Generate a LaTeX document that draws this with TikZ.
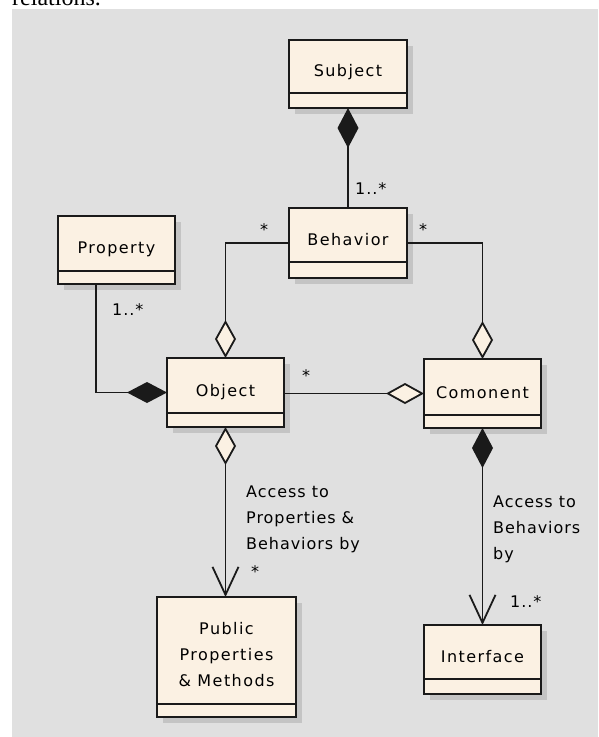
\documentclass[tikz,border=0pt]{standalone}
\usepackage{fontspec}
\newfontfamily\umlfont{DejaVu Sans}[LetterSpace=6]
\newfontfamily\umlclassfont{DejaVu Sans}[LetterSpace=9]
\newfontfamily\docfont{Liberation Serif}
\usetikzlibrary{arrows.meta}
\definecolor{bggray}{HTML}{E0E0E0}
\definecolor{cream}{HTML}{FBF1E3}
\definecolor{shadowgray}{HTML}{C4C4C4}
\definecolor{ink}{HTML}{1A1A1A}
\tikzset{
  classbox/.style={draw=ink, line width=1.9pt, fill=cream, inner sep=0pt, outer sep=0pt},
  classtext/.style={font=\umlclassfont\fontsize{16}{26}\selectfont, inner sep=0pt, align=center, anchor=base},
  lbl/.style={font=\umlfont\fontsize{16}{26}\selectfont, inner sep=0pt, anchor=base west, align=left},
  conn/.style={draw=ink, line width=1.8pt},
  comp/.style={arrows={Diamond[length=40pt,width=21pt,fill=ink]-}},
  aggr/.style={arrows={Diamond[length=38pt,width=21pt,fill=cream]-}},
  aggrnav/.style={arrows={Diamond[length=38pt,width=21pt,fill=cream]-Straight Barb[length=28pt,width=26pt]}},
  compnav/.style={arrows={Diamond[length=40pt,width=21pt,fill=ink]-Straight Barb[length=28pt,width=26pt]}},
}
\newcommand\umlbox[8]{%
  \fill[shadowgray] (#2+6,#3+6) rectangle (#4+6,#5+6);
  \node[classbox, anchor=north west, minimum width={#4-#2}, minimum height={#5-#3}] (#1) at (#2,#3) {};
  \draw[ink, line width=1.6pt] (#2,#6) -- (#4,#6);
  \node[classtext] (#1-t) at ({(#2+#4)/2},#8) {#7};
}
\begin{document}
\begin{tikzpicture}[x=1pt,y=-1pt]
\useasboundingbox (0,0) rectangle (598,737);
\clip (0,0) rectangle (598,737);
\fill[bggray] (12,9) rectangle (598,737);
\node[font=\fontsize{24}{28}\selectfont\docfont, inner sep=0pt, anchor=base west] (caption) at (12,5) {relations.};

\umlbox{subj}{289}{40}{407}{108}{93}{Subject}{76}
\umlbox{beh}{289}{208}{407}{278}{262}{Behavior}{245}
\umlbox{prop}{58}{216}{175}{284}{271}{Property}{253}
\umlbox{obj}{167}{358}{284}{427}{413}{Object}{396}
\umlbox{com}{424}{359}{541}{428}{415}{Comonent}{398}
\umlbox{pub}{157}{597}{296}{717}{704}{Public\\Properties\\\& Methods}{686}
\umlbox{iface}{424}{625}{541}{694}{679}{Interface}{662}

\draw[conn, comp] (subj.south) -- (beh.north);
\draw[conn, aggr] (obj.north) |- (beh.west);
\draw[conn, aggr] (com.north) |- (beh.east);
\draw[conn, comp] (obj.west) -| ([xshift=38pt]prop.south west);
\draw[conn, aggr] (com.west) -- (com.west -| obj.east);
\draw[conn, aggrnav] (obj.south) -- (obj.south |- pub.north);
\draw[conn, compnav] (com.south) -- (iface.north);

\node[lbl] (l1) at (355,194) {1..*};
\node[lbl] (l2) at (260,235) {*};
\node[lbl] (l3) at (419,235) {*};
\node[lbl] (l4) at (112,315) {1..*};
\node[lbl] (l5) at (302,381) {*};
\node[lbl] (l6) at (246,549) {Access to\\Properties \&\\Behaviors by};
\node[lbl] (l7) at (251,577) {*};
\node[lbl] (l8) at (493,559) {Access to\\Behaviors\\by};
\node[lbl] (l9) at (510,607) {1..*};
\end{tikzpicture}
\end{document}
